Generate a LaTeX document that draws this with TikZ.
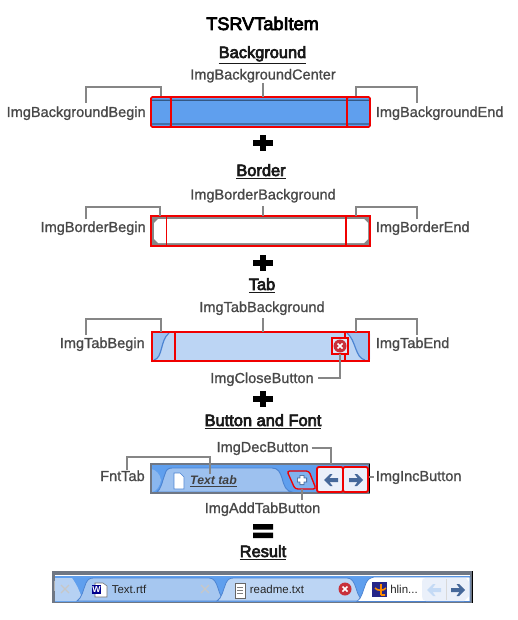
\documentclass[tikz,border=0pt]{standalone}
\usepackage{fontspec}
\setmainfont{Liberation Sans}
\newfontfamily\hfont[FakeBold=4]{Liberation Sans}
\newfontfamily\lfont[FakeBold=1]{Liberation Sans}
\usetikzlibrary{fit,calc}
\definecolor{lbl}{HTML}{484848}
\definecolor{conn}{HTML}{868686}
\definecolor{barblue}{HTML}{5F9FEE}
\definecolor{tabdark}{HTML}{9DC1EF}
\definecolor{tablight}{HTML}{BCD5F4}
\definecolor{tabline}{HTML}{4C84D2}
\definecolor{frame}{HTML}{6F7784}
\definecolor{redb}{HTML}{F00000}
\definecolor{arrowc}{HTML}{45689A}
\definecolor{btnc}{HTML}{EAF0FA}
\definecolor{closec}{HTML}{C8303A}
\tikzset{
 lab/.style={font=\lfont\fontsize{10.9pt}{12pt}\selectfont,text=lbl,inner sep=0pt,outer sep=1pt},
 head/.style={font=\hfont\fontsize{12.3pt}{14pt}\selectfont,text=black!90,inner sep=0pt,anchor=base},
 titlenode/.style={font=\hfont\fontsize{13.6pt}{15pt}\selectfont,text=black,inner sep=0pt,anchor=base},
 seg/.style={draw=redb,line width=1.4pt,inner sep=0pt,outer sep=0pt},
 conline/.style={draw=conn,line width=0.95pt},
 hot/.style={draw=redb,line width=1.4pt,rounded corners=1.5pt},
 small/.style={font=\fontsize{8.6pt}{11pt}\selectfont,text=black!85,inner sep=0pt,anchor=base},
}
\newcommand{\plussign}[2]{\fill[black] (#1-10,#2-2.8) rectangle (#1+10,#2+2.8); \fill[black] (#1-3,#2-8) rectangle (#1+3,#2+8);}
\newcommand{\arrL}[3]{\fill[#3] (#1-7,#2) -- (#1-1,#2-6) -- (#1+1.5,#2-6) -- (#1-1.5,#2-2) -- (#1+7,#2-2) -- (#1+7,#2+2) -- (#1-1.5,#2+2) -- (#1+1.5,#2+6) -- (#1-1,#2+6) -- cycle;}
\newcommand{\arrR}[3]{\fill[#3] (#1+7,#2) -- (#1+1,#2-6) -- (#1-1.5,#2-6) -- (#1+1.5,#2-2) -- (#1-7,#2-2) -- (#1-7,#2+2) -- (#1+1.5,#2+2) -- (#1-1.5,#2+6) -- (#1+1,#2+6) -- cycle;}
\newcommand{\closered}[2]{\fill[closec] (#1,#2) circle (6.5); \draw[white,line width=1.2pt] (#1-2.5,#2-2.5) -- (#1+2.5,#2+2.5) (#1-2.5,#2+2.5) -- (#1+2.5,#2-2.5);}
\newcommand{\closegray}[2]{\draw[black!22,line width=1pt] (#1-4,#2-4) -- (#1+4,#2+4) (#1-4,#2+4) -- (#1+4,#2-4);}
\begin{document}
\begin{tikzpicture}[x=0.75pt,y=-0.75pt]
\useasboundingbox (0,0) rectangle (517,620);
\fill[white] (0,0) rectangle (517,620);
% ---- headings
\node[titlenode] (title) at (262.5,30) {TSRVTabItem};
\node[head] (h1) at (262.5,58) {\underline{Background}};
\node[head] (h2) at (261,176) {\underline{Border}};
\node[head] (h3) at (262,290) {\underline{Tab}};
\node[head] (h4) at (263,426) {\underline{Button and Font}};
\node[head] (h5) at (263,557) {\underline{Result}};
% ---- background row
\fill[barblue,rounded corners=1.5pt] (151,97) rectangle (370,127);
\fill[black!45!barblue] (151,99.6) rectangle (370,100.8) (151,123.4) rectangle (370,124.6);
\node[seg,rounded corners=1pt,fit={(151,97)(171,127)}] (bgB) {};
\node[seg,fit={(171,97)(347,127)}] (bgC) {};
\node[seg,rounded corners=1pt,fit={(347,97)(370,127)}] (bgE) {};
\node[lab,anchor=base east] (lbgB) at (147,117) {ImgBackgroundBegin};
\node[lab,anchor=base] (lbgC) at (263,79.5) {ImgBackgroundCenter};
\node[lab,anchor=base west] (lbgE) at (374.5,117) {ImgBackgroundEnd};
\coordinate (cbgL) at (86,103); \coordinate (cbgR) at (417,103);
\coordinate (bgBt) at (161,96.5); \coordinate (bgEt) at (356,96.5);
\coordinate (cbgC) at (263,83);
\draw[conline] (cbgL) |- (161,87) -- (bgBt);
\draw[conline] (cbgR) |- (356,87) -- (bgEt);
\draw[conline] (cbgC) -- (cbgC |- bgC.north);
\plussign{262.5}{143}
% ---- border row
\fill[conn] (151,216) rectangle (370,246);
\fill[white] (158,219) -- (364,219) -- (368,223) -- (368,239) -- (364,243) -- (158,243) -- (154,239) -- (154,223) -- cycle;
\draw[black,line width=0.6pt] (370,216) -- (370,246) -- (151,246);
\node[seg,fit={(151,216)(166.5,246)}] (boB) {};
\node[seg,fit={(166.5,216)(346,246)}] (boC) {};
\node[seg,fit={(346,216)(370,246)}] (boE) {};
\node[lab,anchor=base east] (lboB) at (147,232) {ImgBorderBegin};
\node[lab,anchor=base] (lboC) at (263,199.5) {ImgBorderBackground};
\node[lab,anchor=base west] (lboE) at (374.5,232) {ImgBorderEnd};
\coordinate (cboL) at (86,219); \coordinate (cboR) at (417,219);
\coordinate (boBt) at (160,215.5); \coordinate (boEt) at (356,215.5);
\coordinate (cboC) at (263,206);
\draw[conline] (cboL) |- (160,207) -- (boBt);
\draw[conline] (cboR) |- (356,207) -- (boEt);
\draw[conline] (cboC) -- (cboC |- boC.north);
\plussign{262.5}{263}
% ---- tab row
\fill[tablight,rounded corners=1.5pt] (151,332) rectangle (370,361);
\fill[tabdark] (152,332) -- (168,332) .. controls (160,340) and (163,359) .. (153,360) -- (152,360) -- cycle;
\fill[tabdark] (347,332) .. controls (356,338) and (355,358) .. (365,360) -- (369,360) -- (369,332) -- cycle;
\draw[tabline,line width=0.9pt] (154,360) .. controls (163,358) and (160,340) .. (169,333);
\draw[tabline,line width=0.9pt] (347,333) .. controls (356,340) and (355,358) .. (365,360);
\node[seg,fit={(152,332)(175,361)}] (tbB) {};
\node[seg,fit={(175,332)(345,361)}] (tbC) {};
\node[seg,fit={(345,332)(369,361)}] (tbE) {};
\fill[tablight!50!white] (332,338) rectangle (348,354);
\closered{340}{346}
\node[seg,line width=0.9pt,fit={(332,338)(348,354)}] (tbX) {};
\node[lab,anchor=base east] (ltbB) at (146,348) {ImgTabBegin};
\node[lab,anchor=base] (ltbC) at (262,312) {ImgTabBackground};
\node[lab,anchor=base west] (ltbE) at (374.5,348) {ImgTabEnd};
\node[lab,anchor=base east] (ltbX) at (315,383) {ImgCloseButton};
\coordinate (ctbL) at (86,335); \coordinate (ctbR) at (417,335);
\coordinate (tbBt) at (161,331.5); \coordinate (tbEt) at (356,331.5);
\coordinate (cX) at (318,378); \coordinate (ctbC) at (263,318);
\draw[conline] (ctbL) |- (161,319) -- (tbBt);
\draw[conline] (ctbR) |- (356,319) -- (tbEt);
\draw[conline] (ctbC) -- (ctbC |- tbC.north);
\draw[conline] (cX) -| (tbX.south);
\plussign{262.5}{399}
% ---- button and font row
\fill[barblue] (151,464) rectangle (369,493);
\fill[tabdark!70!barblue] (151.5,469) .. controls (156,470) and (160,474) .. (161,480) .. controls (160,486) and (157,491) .. (152,492) -- cycle;
\path[fill=tabdark,draw=tabline,line width=0.7pt] (157,492) .. controls (161,489) and (162,482) .. (165,474) .. controls (166,470) and (168,468) .. (172,468) -- (272,468) .. controls (278,468) and (280,472) .. (282,478) .. controls (284,486) and (286,491) .. (292,492) -- cycle;
\fill[tabdark!55!barblue] (287,471.5) -- (309,471.5) -- (316,489) -- (295,489) -- cycle;
\draw[frame,line width=1.1pt] (151,464) rectangle (369,493);
\draw[black,line width=0.7pt] (369,464) -- (369,493);
\fill[white,draw=tabline,line width=0.4pt] (174,473) -- (180,473) -- (184,477) -- (184,489) -- (174,489) -- cycle;
\node[font=\fontsize{9.2pt}{11pt}\selectfont\bfseries\itshape,text=black!75,inner sep=0pt,anchor=base] (ttab) at (213.5,484.5) {\underline{Text tab}};
\fill[btnc] (318,468) rectangle (368,491);
\node[hot,fit={(317,467)(343,492)},inner sep=0pt] (decB) {};
\node[hot,fit={(343,467)(368,492)},inner sep=0pt] (incB) {};
\arrL{331}{480}{arrowc}
\arrR{356}{480}{arrowc}
\draw[hot,line width=1pt,rounded corners=2pt] (287,471) -- (309,471) -- (316,489) -- (295,489) -- cycle;
\coordinate (addT) at (302,489);
\fill[arrowc] (299.6,475) rectangle (304.4,485) (297,477.6) rectangle (307,482.4);
\fill[white] (300.3,475.8) rectangle (303.7,484.2) (297.8,478.3) rectangle (306.2,481.7);
\node[lab,anchor=base east] (lfnt) at (146,481) {FntTab};
\node[lab,anchor=base east] (ldec) at (310,452) {ImgDecButton};
\node[lab,anchor=base west] (linc) at (374.5,481) {ImgIncButton};
\node[lab,anchor=base] (ladd) at (262.5,513) {ImgAddTabButton};
\coordinate (cfnt) at (127,470); \coordinate (ttabT) at (210,474);
\coordinate (cdec) at (311.5,448); \coordinate (cinc) at (374,477);
\coordinate (caddB) at (302,500);
\draw[conline] (cfnt) |- (210,457) -- (ttabT);
\draw[conline] (cdec) -| (331,464);
\draw[conline] (incB.east |- cinc) -- (cinc);
\draw[conline] (addT) -- (caddB);
% equals
\fill[black] (253,524) rectangle (273,529.5) (253,532.5) rectangle (273,538);
% ---- result row
\fill[frame] (52,571) rectangle (472,603);
\fill[white] (55,574.5) rectangle (470,575.5);
\fill[barblue] (55,575.5) rectangle (470,601.5);
% first partial tab
\fill[tablight!80!tabdark] (55,578) -- (72,578) .. controls (77,585) and (80,592) .. (83,601) -- (55,601) -- cycle;
% Text.rtf tab
\path[fill=tabdark!70!tablight,draw=tabline,line width=0.6pt] (77,601) .. controls (82,598) and (83,590) .. (86,583) .. controls (88,579) and (90,578) .. (94,578) -- (209,578) .. controls (214,578) and (216,582) .. (218,588) .. controls (220,595) and (222,600) .. (228,601) -- cycle;
% readme tab
\path[fill=tablight,draw=tabline,line width=0.6pt] (217,601) .. controls (222,598) and (223,590) .. (226,583) .. controls (228,579) and (230,578) .. (234,578) -- (347,578) .. controls (352,578) and (354,582) .. (356,588) .. controls (358,595) and (360,600) .. (366,601) -- cycle;
% active tab
\path[fill=white,draw=tabline,line width=0.6pt] (357,601.5) .. controls (362,598) and (363,590) .. (366,583) .. controls (368,579) and (370,578) .. (374,577) -- (470,577) -- (470,601.5) -- cycle;
\fill[btnc] (426,578) -- (466,578) -- (469,582) -- (469,596) -- (464,601) -- (426,601) .. controls (423,601) and (422,599) .. (422,596) -- (422,582) .. controls (422,579) and (423,578) .. (426,578) -- cycle;
\draw[black!15,line width=0.6pt] (446,579) -- (446,600);
\arrL{434}{590}{tabdark!60!white}
\arrR{458}{590}{arrowc}
\fill[black] (471.5,571) rectangle (472.5,603);
\fill[white!70!black] (54,581) rectangle (55,591);
% content
\closegray{65}{589}
\closegray{205}{589}
\closered{345}{589}
\fill[white,draw=black!55,line width=0.4pt] (95,583) -- (103,583) -- (107,586) -- (107,597) -- (95,597) -- cycle;
\fill[blue!55!black] (92,585) rectangle (101,594);
\node[font=\fontsize{6.5pt}{7pt}\selectfont\bfseries,text=white,inner sep=0pt] (wordg) at (96.5,589.5) {W};
\node[small] (t1) at (129,593) {Text.rtf};
\fill[white,draw=black!60,line width=0.5pt] (235,583) rectangle (245,598);
\draw[black!50,line width=0.5pt] (237,587) -- (243,587) (237,590) -- (243,590) (237,593) -- (243,593);
\node[small] (t2) at (277,593) {readme.txt};
\fill[blue!45!black!85] (372,582) rectangle (387,597);
\draw[orange!90!yellow,line width=1.2pt] (381,584) -- (381,595) (375,588) .. controls (377,591) and (384,591) .. (386,588) (381,595) -- (385,595);
\node[small] (t3) at (404,593) {hlin...};
\end{tikzpicture}
\end{document}
